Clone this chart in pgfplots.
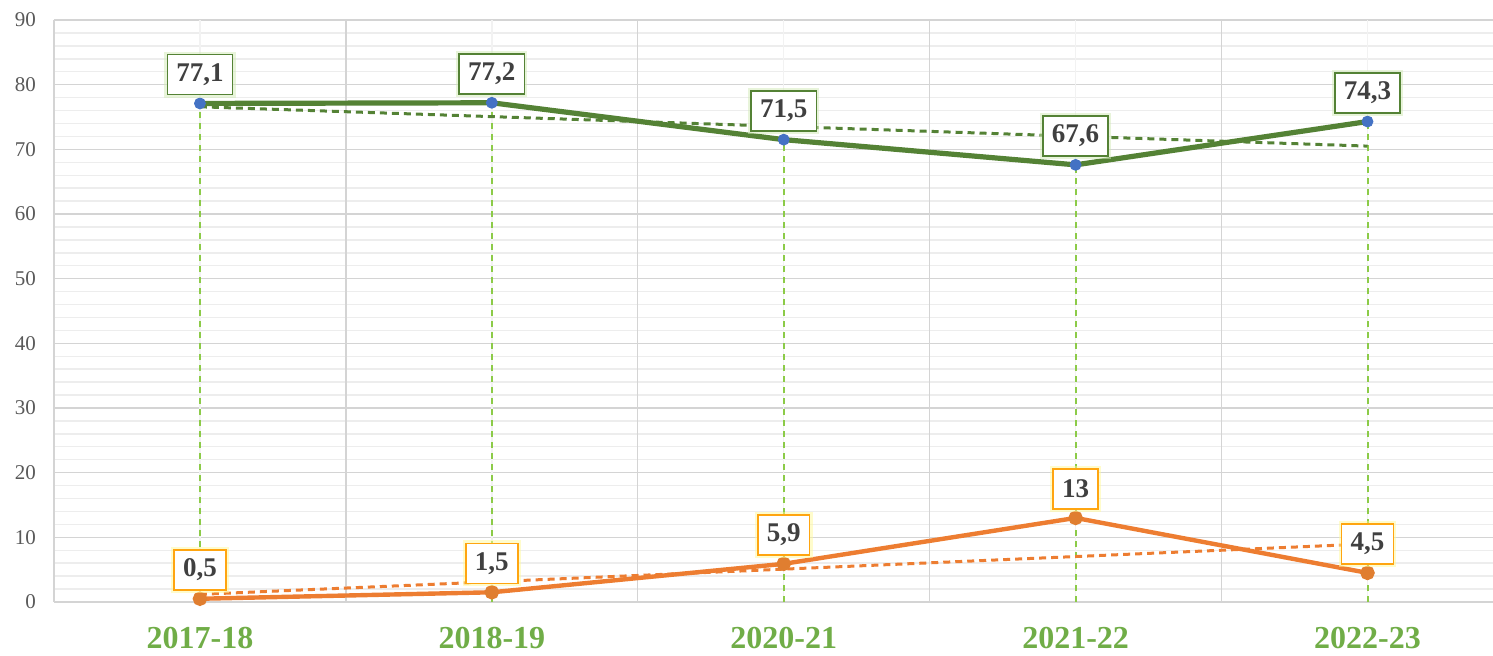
\documentclass[border=0pt]{standalone}
\usepackage{fontspec}
\setmainfont{Liberation Serif}
\usepackage{pgfplots}
\pgfplotsset{compat=1.18}
\definecolor{gline}{HTML}{548235}
\definecolor{xlab}{HTML}{70AD47}
\definecolor{drop}{HTML}{8CCB48}
\definecolor{oline}{HTML}{ED7D31}
\definecolor{omark}{HTML}{E07E30}
\definecolor{obox}{HTML}{FFA510}
\definecolor{mblue}{HTML}{4472C4}
\definecolor{labtxt}{HTML}{404040}
\definecolor{ytxt}{HTML}{595959}
\begin{document}
\begin{tikzpicture}
\useasboundingbox (-27pt,-27pt) rectangle (719.5pt,301pt);
\begin{axis}[
  at={(0pt,0pt)}, anchor=south west,
  scale only axis, width=719.5pt, height=291pt,
  xmin=-0.5, xmax=4.43, ymin=0, ymax=90,
  xtick={0,1,2,3,4},
  xticklabels={2017-18,2018-19,2020-21,2021-22,2022-23},
  extra x ticks={-0.5,0.5,1.5,2.5,3.5},
  extra x tick labels={},
  extra x tick style={grid=major},
  ytick={0,10,...,90}, minor y tick num=4,
  ymajorgrids, yminorgrids,
  major grid style={draw=black!17, line width=0.7pt},
  minor grid style={draw=black!7, line width=0.7pt},
  axis line style={draw=none},
  major tick length=0pt, minor tick length=0pt,
  tick style={draw=none},
  xticklabel style={font=\bfseries\fontsize{16}{16}\selectfont, text=xlab, yshift=-9pt},
  yticklabel style={font=\fontsize{10.5}{12}\selectfont, text=ytxt, xshift=-5.5pt},
  clip=false,
  /pgf/number format/assume math mode=true,
  /pgf/number format/use comma,
  /pgf/number format/fixed,
  /pgf/number format/precision=1,
]
% faint category lines
\addplot[ycomb, draw=black!5, line width=0.7pt, mark=none, forget plot]
  coordinates {(0,90)(1,90)(2,90)(3,90)(4,90)};
% series with labels
\addplot[gline, line width=2.6pt, mark=*, mark size=2.7pt,
  mark options={fill=mblue, draw=mblue, line width=0.5pt},
  nodes near coords,
  every node near coord/.style={draw=gline, fill=white, line width=0.8pt,
    font=\bfseries\fontsize{13.5}{13.5}\selectfont, text=labtxt,
    inner xsep=4.5pt, minimum height=20pt, anchor=south, yshift=4pt,
    preaction={draw=drop!40, line width=3pt, opacity=0.5}}]
  coordinates {(0,77.1)(1,77.2)(2,71.5)(3,67.6)(4,74.3)};
\addplot[oline, line width=2.2pt, mark=*, mark size=2.5pt,
  mark options={fill=omark, draw=omark},
  nodes near coords,
  every node near coord/.style={draw=obox, fill=white, line width=0.8pt,
    font=\bfseries\fontsize{13.5}{13.5}\selectfont, text=labtxt,
    inner xsep=4.5pt, minimum height=20pt, anchor=south, yshift=4pt,
    preaction={draw=yellow!40, line width=3pt, opacity=0.5}}]
  coordinates {(0,0.5)(1,1.5)(2,5.9)(3,13)(4,4.5)};
% drop lines
\addplot[ycomb, draw=drop, line width=1pt, dash pattern=on 3pt off 2.5pt, mark=none]
  coordinates {(0,77.1)(1,77.2)(2,71.5)(3,67.6)(4,74.3)};
% linear trend lines
\addplot[gline, line width=1.5pt, dash pattern=on 3.5pt off 2.5pt]
  coordinates {(0,76.58)(4,70.5)};
\addplot[oline, line width=1.5pt, dash pattern=on 3.5pt off 2.5pt]
  coordinates {(0,1.18)(4,8.98)};
\end{axis}
\end{tikzpicture}
\end{document}
